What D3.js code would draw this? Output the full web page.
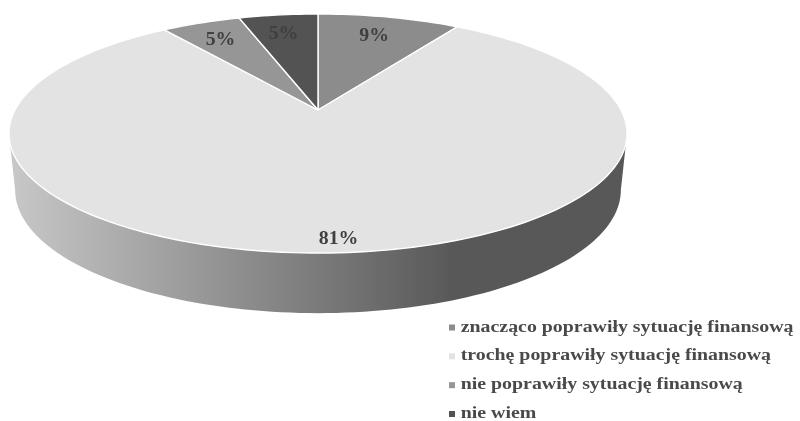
<!DOCTYPE html>
<html>
<head>
<meta charset="utf-8">
<script src="https://cdn.jsdelivr.net/npm/d3@7"></script>
<style>
  html, body { margin: 0; background: #fff; }
  text { font-family: "Liberation Serif", serif; font-weight: bold; }
</style>
</head>
<body>
<div id="chart"></div>
<script>
var categories = ["znacząco poprawiły sytuację finansową", "trochę poprawiły sytuację finansową", "nie poprawiły sytuację finansową", "nie wiem"];
var values = [9, 81, 5, 5];
var colors = ["#8c8c8c", "#e3e3e3", "#969696", "#525252"];
var labelColors = ["#404040", "#404040", "#404040", "#404040"];

var width = 800, height = 421;
var svg = d3.select("#chart").append("svg")
    .attr("width", width)
    .attr("height", height)
    .style("display", "block");

var defs = svg.append("defs");
defs.append("filter").attr("id", "soft")
  .append("feGaussianBlur").attr("stdDeviation", 0.45);

var wallGrad = defs.append("linearGradient")
    .attr("id", "wall")
    .attr("gradientUnits", "userSpaceOnUse")
    .attr("x1", 10).attr("x2", 627).attr("y1", 0).attr("y2", 0);
[[0, "#c8c8c8"], [0.72, "#585858"], [1, "#585858"]].forEach(function(s) {
  wallGrad.append("stop").attr("offset", s[0]).attr("stop-color", s[1]);
});

// the disc is tilted in perspective, so the centre sits above the middle of the ellipse
var cx = 318, cy = 110, rx = 303, ry = 114.9, tilt = 0.1967;
var depth = 55.8, shrinkX = 0.98, shrinkY = 1.03;

function project(angle, r, level) {
  var u = r * Math.sin(angle), v = r * Math.cos(angle);
  var w = 1 + tilt * v;
  return [cx + (level ? shrinkX : 1) * rx * u / w,
          cy + (level ? depth : 0) - (level ? shrinkY : 1) * ry * v / w];
}

var line = d3.line();
var pie = d3.pie().sort(null).value(function(d) { return d; }).startAngle(0).endAngle(2 * Math.PI);
var arcs = pie(values);

function rim(a0, a1, level) {
  var n = Math.max(2, Math.ceil(Math.abs(a1 - a0) * 40));
  return d3.range(n + 1).map(function(i) {
    return project(a0 + (a1 - a0) * i / n, 1, level);
  });
}

var chart = svg.append("g").attr("filter", "url(#soft)");

// side wall runs between the widest points of the two rims
var sideAngle = Math.acos(-tilt);
var wallTop = rim(sideAngle, 2 * Math.PI - sideAngle, 0);
var wallBottom = rim(2 * Math.PI - sideAngle, sideAngle, 1);
chart.append("path")
    .attr("d", line(wallTop.concat(wallBottom)) + "Z")
    .attr("fill", "url(#wall)");

chart.append("g").selectAll("path")
    .data(arcs)
  .enter().append("path")
    .attr("d", function(d) {
      return line([project(0, 0, 0)].concat(rim(d.startAngle, d.endAngle, 0))) + "Z";
    })
    .attr("fill", function(d, i) { return colors[i]; })
    .attr("stroke", "#fff")
    .attr("stroke-width", 1.4)
    .attr("stroke-linejoin", "round");

// data labels, the big slice sits nearer the rim
chart.append("g").selectAll("text")
    .data(arcs)
  .enter().append("text")
    .attr("transform", function(d) {
      var mid = (d.startAngle + d.endAngle) / 2;
      var big = d.value > 50;
      var p = project(mid, big ? 0.914 : 0.79, 0);
      return "translate(" + (p[0] + (big ? 10 : -2)) + "," + (p[1] + 6.5) + ") scale(1.1,1)";
    })
    .attr("text-anchor", "middle")
    .attr("font-size", 18)
    .attr("fill", function(d, i) { return labelColors[i]; })
    .text(function(d) { return d.value + "%"; });

var legendY = d3.scalePoint().domain(categories).range([327.5, 414]);
var legend = chart.append("g").selectAll("g")
    .data(categories)
  .enter().append("g")
    .attr("transform", function(d) { return "translate(452," + legendY(d) + ")"; });

legend.append("rect")
    .attr("x", -3).attr("y", -3)
    .attr("width", 6).attr("height", 6)
    .attr("fill", function(d, i) { return colors[i]; });

legend.append("text")
    .attr("transform", "translate(8.7,4) scale(1.243,1)")
    .attr("font-size", 16)
    .attr("fill", "#4a4a4a")
    .text(function(d) { return d; });
</script>
</body>
</html>
